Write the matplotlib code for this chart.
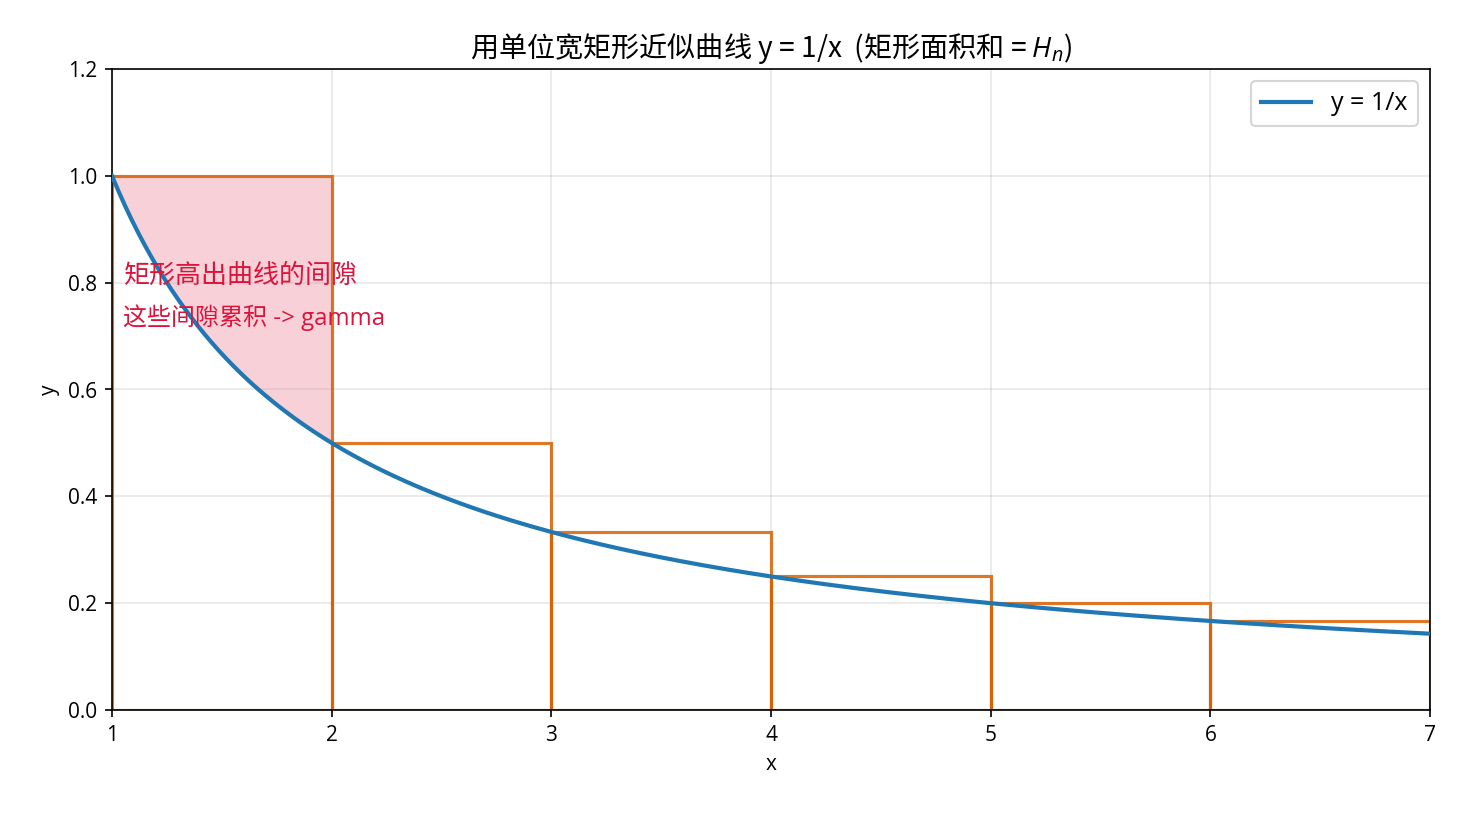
import numpy as np
import matplotlib
matplotlib.use("Agg")
import matplotlib.pyplot as plt
from matplotlib.patches import Rectangle

plt.rcParams['font.family'] = ['Open Sans', 'Noto Sans CJK SC', 'DejaVu Sans']
plt.rcParams['mathtext.fontset'] = 'custom'
plt.rcParams['mathtext.rm'] = 'Noto Sans CJK SC'
plt.rcParams['mathtext.it'] = 'Open Sans:italic'
plt.rcParams['axes.unicode_minus'] = False

# rectangle left edges and heights (1/k)
rect_left = [1, 2, 3, 4, 5, 6]
rect_height = [1.0, 0.5, 0.3333, 0.25, 0.2, 0.1667]

title = "用单位宽矩形近似曲线 y = 1/x  (矩形面积和 = $H_n$)"
note1 = "矩形高出曲线的间隙"
note2 = "这些间隙累积 -> gamma"

x = np.linspace(1, 7, 400)
y = 1 / x

fig = plt.figure(figsize=(1462 / 150, 816 / 150), dpi=150)
ax = fig.add_axes([112 / 1462, 1 - 710 / 816, 1318 / 1462, 641 / 816])

ax.plot(x, y, color='#1f77b4', lw=2, label='y = 1/x', zorder=3)

for left, h in zip(rect_left, rect_height):
    r = Rectangle((left, 0), 1, h, fill=False, edgecolor='#d95f02',
                  alpha=0.85, lw=1.5, zorder=2)
    ax.add_patch(r)

# gap between first rectangle and the curve
xs = np.linspace(1, 2, 200)
ax.fill_between(xs, 1 / xs, rect_height[0], color='crimson', alpha=0.2, lw=0, zorder=1)

ax.text(1.05, 0.8, note1, color='crimson', fontsize=12.5)
ax.text(1.05, 0.72, note2, color='crimson', fontsize=11.5)

ax.set_xlim(1, 7)
ax.set_ylim(0, 1.2)
ax.set_xlabel('x')
ax.set_ylabel('y')
ax.set_title(title, fontsize=13.5, family='Noto Sans CJK SC')
ax.grid(True, alpha=0.3)
ax.legend(loc='upper right', fontsize=12)

fig.savefig('out.png', dpi=150)
